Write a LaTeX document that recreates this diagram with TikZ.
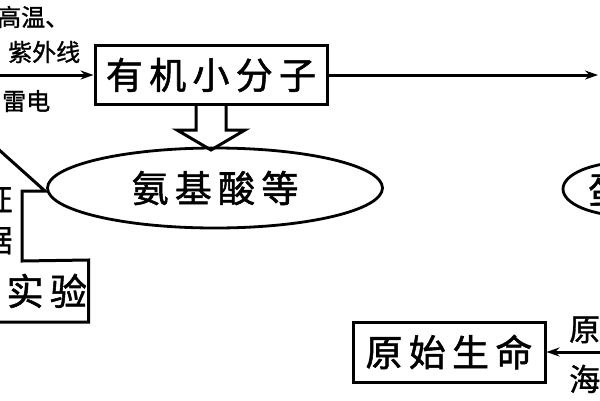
\documentclass[tikz,border=0pt]{standalone}
\usepackage{fontspec}
\usepackage{tikz}
\usetikzlibrary{arrows.meta,positioning,shapes.geometric,calc}
\newfontfamily\cjk[FakeBold=1.2]{Noto Sans CJK SC}
\newfontfamily\cjkwide[LetterSpace=17, FakeBold=1.4]{Noto Sans CJK SC}
\tikzset{
  stagebox/.style={draw=black, line width=3pt, inner sep=0pt, align=center, font=\cjkwide\fontsize{37}{40}\selectfont},
  examples/.style={draw=black, ellipse, line width=2.8pt, inner sep=0pt, align=center, font=\cjkwide\fontsize{37}{40}\selectfont},
  cond/.style={inner sep=0pt, font=\cjk\fontsize{24}{26}\selectfont},
  note/.style={inner sep=0pt, align=center, font=\cjk\fontsize{31}{41}\selectfont},
  arrow/.style={-{Stealth[length=13pt, width=9pt]}, line width=3pt, draw=black},
  hollow/.style={draw=black, line width=3pt, line join=miter}
}
\begin{document}
\begin{tikzpicture}[x=1pt, y=-1pt]
  \useasboundingbox (0,0) rectangle (600,400);
  \clip (0,0) rectangle (600,400);

  \node[stagebox, minimum width=232pt, minimum height=59pt] (xiaofenzi) at (211,75) {有机小分子};
  \node[examples, minimum width=335pt, minimum height=80pt] (anjisuan) at (215,188) {氨基酸等};
  \node[examples, minimum width=130pt, minimum height=54pt] (danbai) at (628,189) {};
  \node[cond, font=\cjkwide\fontsize{37}{40}\selectfont, anchor=west] (danbaitext) at (588,190) {蛋白质};
  \node[stagebox, minimum width=192pt, minimum height=60pt] (shengming) at (449,352) {原始生命};
  \node[stagebox, draw=none, minimum width=167pt, minimum height=59pt] (shiyan) at (3.5,291) {模拟实验};
  \node[note] (zhengju) at (-3,220) {证\\据};

  \node[cond, anchor=west] (gaowen) at (-3,17) {高温、};
  \node[cond, anchor=west] (ziwai) at (8,52) {紫外线};
  \node[cond, anchor=west] (leidian) at (2,101) {雷电};
  \node[note, anchor=west] (yuanshi) at (569,329) {原始};
  \node[note, anchor=west] (haiyang) at (569,379) {海洋};

  \coordinate (wuji) at (-10,75);
  \coordinate (gaofenzi) at (598,75);
  \coordinate (duofenzi) at (610,352);
  \coordinate (jiantou) at (-22,131);

  \draw[arrow] (wuji) -- (xiaofenzi.west);
  \draw[arrow] (xiaofenzi.east) -- (gaofenzi);
  \draw[arrow] (duofenzi) -- (shengming.east);

  \draw[hollow] ($(xiaofenzi.south)+(-15,0)$) -- ++(0,24) -- ++(-19,0)
    -- ($(xiaofenzi.south)+(0,44)$) -- ++(34,-20) -- ++(-19,0) -- ++(0,-24);

  \draw[hollow] (jiantou) -- (45,191) -- (22,191) -- (22,261)
    -- (shiyan.north east) -- (shiyan.south east) -- (shiyan.south west);
\end{tikzpicture}
\end{document}
